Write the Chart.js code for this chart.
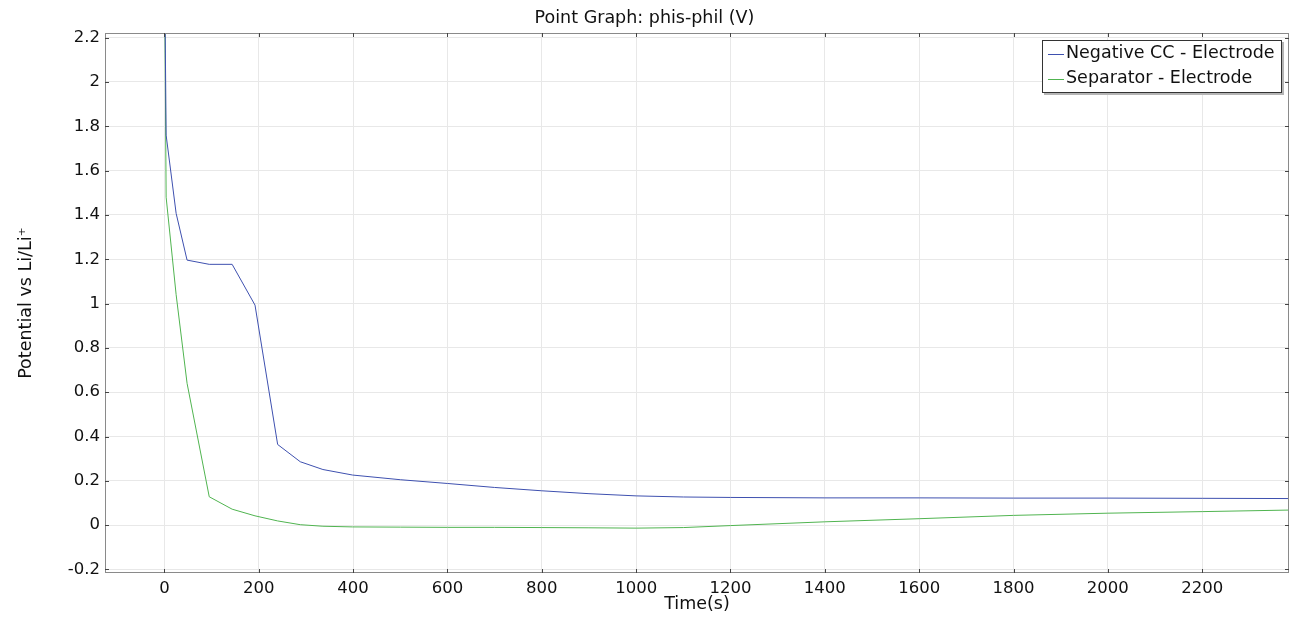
<!DOCTYPE html>
<html>
<head>
<meta charset="utf-8">
<script src="https://cdn.jsdelivr.net/npm/chart.js@4.4.1/dist/chart.umd.min.js"></script>
<style>
  html, body { margin: 0; padding: 0; background: #fff; }
  #wrap { width: 1309px; height: 617px; }
</style>
</head>
<body>
<div id="wrap"><canvas id="chart"></canvas></div>
<script>
// time points (s) shared by both series
const times = [0, 3.6, 24.8, 48, 95, 143.5, 192, 240, 288, 336, 399, 500, 600, 700, 800, 900, 1000, 1100, 1200, 1400, 1600, 1800, 2000, 2200, 2384];

const negativeCC = [2.6, 1.76, 1.407, 1.196, 1.177, 1.177, 0.993, 0.364, 0.286, 0.251, 0.226, 0.205, 0.188, 0.170, 0.155, 0.142, 0.132, 0.127, 0.125, 0.123, 0.123, 0.122, 0.122, 0.121, 0.120];
const separator = [2.6, 1.48, 1.04, 0.64, 0.128, 0.072, 0.042, 0.019, 0.002, -0.005, -0.008, -0.009, -0.010, -0.010, -0.011, -0.012, -0.0135, -0.011, -0.002, 0.015, 0.029, 0.044, 0.054, 0.061, 0.068];

const seriesLabels = ['Negative CC - Electrode', 'Separator - Electrode'];
const xTicks = [0, 200, 400, 600, 800, 1000, 1200, 1400, 1600, 1800, 2000, 2200];
const yTicks = [-0.2, 0, 0.2, 0.4, 0.6, 0.8, 1, 1.2, 1.4, 1.6, 1.8, 2, 2.2];

const FONT = 'DejaVu Sans';
const blue = 'rgb(62, 80, 175)';
const green = 'rgb(80, 180, 80)';

function toPoints(vals) {
  return times.map((t, i) => ({ x: t, y: vals[i] }));
}

// box round the plot with small inward ticks on all four sides
const framePlugin = {
  id: 'frame',
  afterDatasetsDraw(chart) {
    const { ctx, chartArea: a, scales: { x, y } } = chart;
    ctx.save();
    ctx.strokeStyle = '#8a8a8a';
    ctx.lineWidth = 1;
    ctx.strokeRect(a.left + 0.5, a.top + 0.5, a.right - a.left - 1, a.bottom - a.top - 1);
    ctx.strokeStyle = '#444';
    ctx.beginPath();
    x.ticks.forEach(t => {
      const px = Math.round(x.getPixelForValue(t.value)) + 0.5;
      ctx.moveTo(px, a.top); ctx.lineTo(px, a.top + 4);
      ctx.moveTo(px, a.bottom); ctx.lineTo(px, a.bottom - 4);
    });
    y.ticks.forEach(t => {
      const py = Math.round(y.getPixelForValue(t.value)) + 0.5;
      ctx.moveTo(a.left, py); ctx.lineTo(a.left + 4, py);
      ctx.moveTo(a.right, py); ctx.lineTo(a.right - 4, py);
    });
    ctx.stroke();
    ctx.restore();
  }
};

// legend box in the top right corner of the plot
const boxLegend = {
  id: 'boxLegend',
  afterDraw(chart) {
    const { ctx } = chart;
    const left = 1042, top = 40, w = 240, h = 53;
    ctx.save();
    ctx.fillStyle = '#b5b5b5';
    ctx.fillRect(left + 2, top + 2, w, h);
    ctx.fillStyle = '#fff';
    ctx.fillRect(left, top, w, h);
    ctx.strokeStyle = '#333';
    ctx.lineWidth = 1;
    ctx.strokeRect(left + 0.5, top + 0.5, w - 1, h - 1);
    ctx.font = `17.5px "${FONT}"`;
    ctx.textBaseline = 'middle';
    ctx.fillStyle = '#111';
    chart.data.datasets.forEach((ds, i) => {
      const cy = top + 13.5 + i * 25;
      ctx.strokeStyle = ds.borderColor;
      ctx.beginPath();
      ctx.moveTo(left + 6, Math.round(cy) + 0.5);
      ctx.lineTo(left + 22, Math.round(cy) + 0.5);
      ctx.stroke();
      ctx.fillText(ds.label, left + 24, cy);
    });
    ctx.restore();
  }
};

const ctx = document.getElementById('chart').getContext('2d');
new Chart(ctx, {
  type: 'line',
  data: {
    datasets: [
      { label: seriesLabels[0], data: toPoints(negativeCC), borderColor: blue, borderWidth: 1, pointRadius: 0, tension: 0, fill: false },
      { label: seriesLabels[1], data: toPoints(separator), borderColor: green, borderWidth: 1, pointRadius: 0, tension: 0, fill: false }
    ]
  },
  options: {
    responsive: true,
    maintainAspectRatio: false,
    animation: false,
    layout: { padding: { left: 0, right: 20, top: 0, bottom: 0 } },
    scales: {
      x: {
        type: 'linear',
        min: -126,
        max: 2384,
        afterBuildTicks: s => { s.ticks = xTicks.map(v => ({ value: v })); },
        afterFit: s => { s.height = 44; },
        grid: { color: '#e8e8e8', drawTicks: false },
        border: { display: false },
        ticks: {
          autoSkip: false, maxRotation: 0, padding: 6, color: '#111',
          font: { family: FONT, size: 16.5 },
          callback: v => String(v)
        },
        title: { display: true, text: 'Time(s)', color: '#111', font: { family: FONT, size: 17.5 }, padding: { top: 0, bottom: 2 } }
      },
      y: {
        type: 'linear',
        min: -0.216,
        max: 2.221,
        afterBuildTicks: s => { s.ticks = yTicks.map(v => ({ value: v })); },
        afterFit: s => { s.width = 105; },
        grid: { color: '#e8e8e8', drawTicks: false },
        border: { display: false },
        ticks: {
          padding: 5,
          color: '#111',
          font: { family: FONT, size: 16.5 },
          callback: v => String(Math.round(v * 10) / 10)
        },
        title: { display: true, text: 'Potential vs Li/Li\u207A', color: '#111', font: { family: FONT, size: 17.5 }, padding: { top: 16, bottom: 0 } }
      }
    },
    plugins: {
      legend: { display: false },
      tooltip: { enabled: false },
      title: {
        display: true,
        text: 'Point Graph: phis-phil (V)',
        color: '#111',
        font: { family: FONT, size: 17.5, weight: 'normal', lineHeight: 1.2 },
        padding: { top: 8, bottom: 4 }
      }
    }
  },
  plugins: [framePlugin, boxLegend]
});
</script>
</body>
</html>
